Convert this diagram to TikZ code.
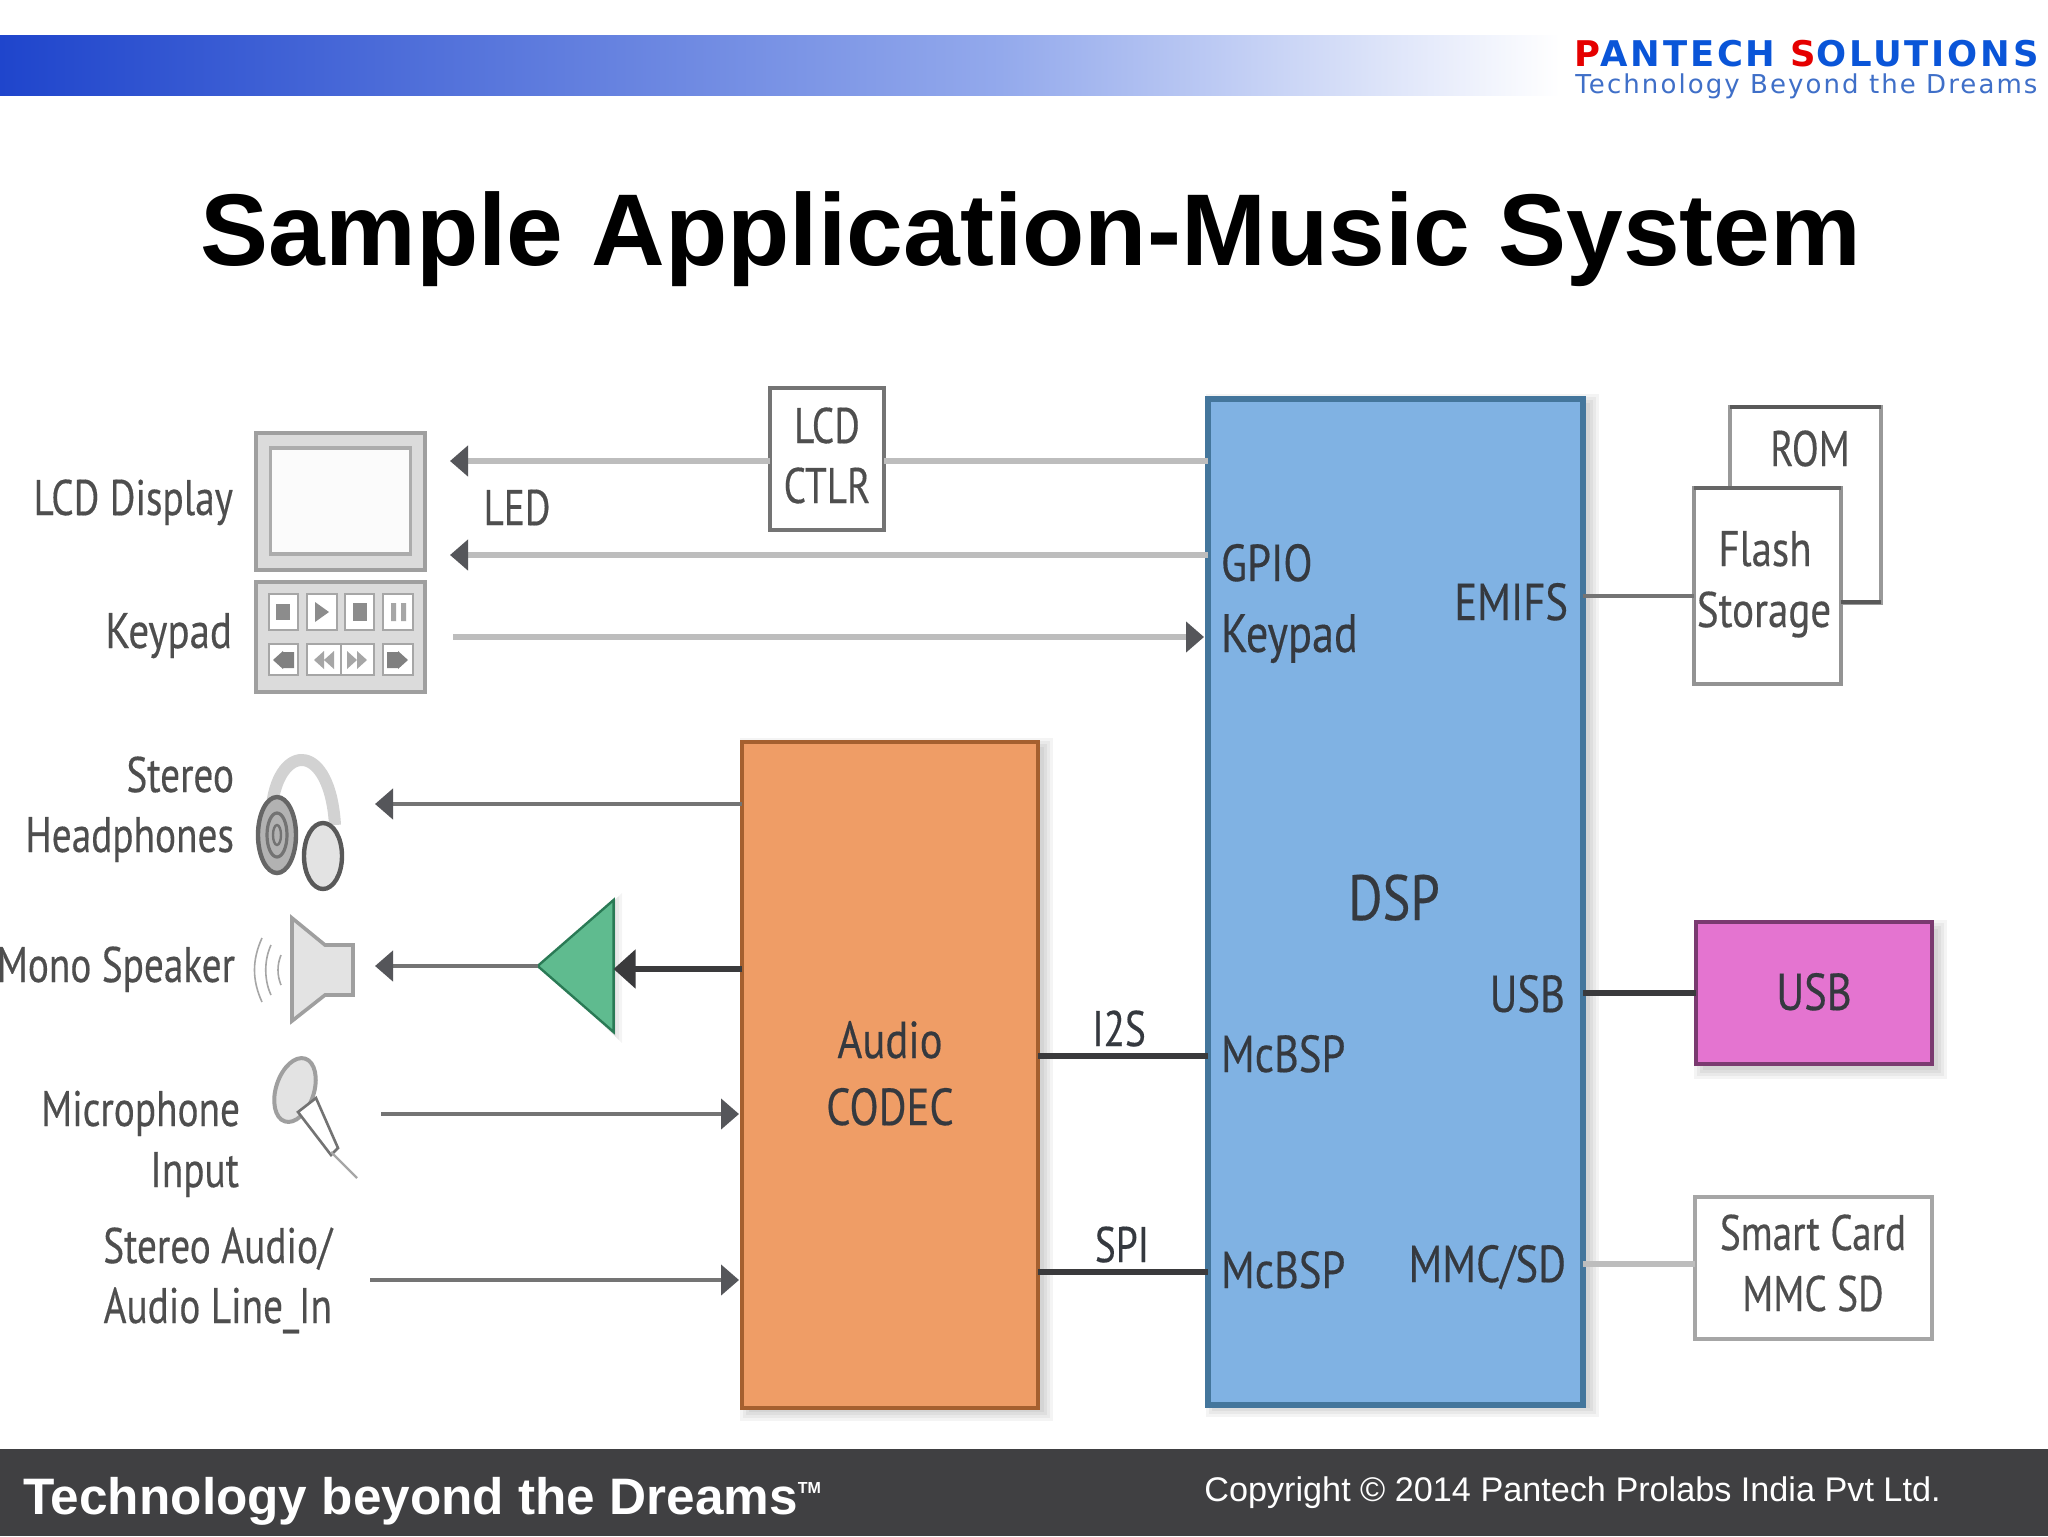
\documentclass[tikz,border=0pt]{standalone}
\usepackage{fontspec}
\setmainfont{Liberation Sans}
\newfontfamily\lab[FakeStretch=0.82,FakeBold=0.3]{PT Sans}
\newfontfamily\labn[FakeStretch=0.785,FakeBold=0.3]{PT Sans}
\newfontfamily\logof[LetterSpace=8]{DejaVu Sans}
\usetikzlibrary{arrows.meta,shapes.geometric}
\definecolor{dspfill}{HTML}{80B2E3}\definecolor{dspline}{HTML}{44769C}
\definecolor{codfill}{HTML}{EF9D66}\definecolor{codline}{HTML}{A5602F}
\definecolor{usbfill}{HTML}{E474D0}\definecolor{usbline}{HTML}{7A3A70}
\definecolor{ampfill}{HTML}{5FBB8F}\definecolor{ampline}{HTML}{2A7A55}
\definecolor{labc}{HTML}{4E4E4E}\definecolor{labd}{HTML}{35393F}\definecolor{foot}{HTML}{404042}
\definecolor{lgrey}{HTML}{BDBDBD}\definecolor{mgrey}{HTML}{747474}\definecolor{dgrey}{HTML}{3A3A3C}
\definecolor{tipc}{HTML}{55565A}\definecolor{logob}{HTML}{0A55D8}\definecolor{logot}{HTML}{3F6FC8}
\definecolor{bandl}{HTML}{1F45CC}\definecolor{bandm}{HTML}{93A9EC}
\newcommand{\softshadow}[4]{%
 \foreach \d in {0,3,6,9}{\fill[black,opacity=0.045] (#1+\d,#2+\d) rectangle (#3+9-\d,#4+9-\d);}}
\tikzset{
 x=0.5pt,y=-0.5pt,
 txt/.style={font=\labn\fontsize{25}{30}\selectfont,text=labc,inner sep=0,outer sep=0},
 txtw/.style={font=\lab\fontsize{25}{30}\selectfont,text=labc,inner sep=0,outer sep=0},
 txtd/.style={font=\lab\fontsize{26}{30}\selectfont,text=labd,inner sep=0,outer sep=0},
 box/.style={draw,inner sep=0,outer sep=0,line width=1.6pt},
 whitebox/.style={box,fill=white,draw=mgrey},
 tipL/.style={-{Triangle[length=9pt,width=15pt,color=tipc]}},
 lgline/.style={draw=lgrey,line width=2.6pt},
 mgline/.style={draw=mgrey,line width=2.2pt},
 dkline/.style={draw=dgrey,line width=3pt},
 icon/.style={draw=gray!75,fill=gray!22,line width=1pt},
}
\begin{document}
\begin{tikzpicture}
\useasboundingbox (0,0) rectangle (2048,1536);
\fill[white] (0,0) rectangle (2048,1536);
% header
\shade[left color=bandl,right color=bandm] (0,36) rectangle (1000,96);
\shade[left color=bandm,right color=white] (1000,36) rectangle (1560,96);
\node[anchor=base west,inner sep=0,font=\logof\bfseries\fontsize{17.7}{20}\selectfont] (logo) at (1574,67) {\textcolor{red!90!black}{P}\textcolor{logob}{ANTECH} \textcolor{red!90!black}{S}\textcolor{logob}{OLUTIONS}};
\node[anchor=base west,inner sep=0,font=\logof\fontsize{13}{15}\selectfont,text=logot] (tag) at (1575,94) {Technology Beyond the Dreams};
% title
\node[anchor=base,inner sep=0,font=\bfseries\fontsize{51}{60}\selectfont] (title) at (1031,265) {Sample Application-Music System};
% footer
\fill[foot] (0,1449) rectangle (2048,1536);
\node[anchor=base west,inner sep=0,text=white,font=\bfseries\fontsize{25.65}{30}\selectfont] (ftl) at (23,1514) {Technology beyond the Dreams\raisebox{10.5pt}{\fontsize{8}{10}\selectfont TM}};
\node[anchor=base west,inner sep=0,text=white,font=\fontsize{17.1}{22}\selectfont] (ftr) at (1204,1501) {Copyright © 2014 Pantech Prolabs India Pvt Ltd.};
% shadows
\softshadow{1206}{394}{1590}{1408}
\softshadow{740}{738}{1044}{1412}
\softshadow{1694}{920}{1938}{1070}
\foreach \d in {0,3,6,9}{\fill[black,opacity=0.045] (622-\d,893+\d) -- (622-\d,1043-\d) -- (542+\d,968) -- cycle;}
% boxes
\node[box,fill=dspfill,draw=dspline,line width=2.6pt,minimum width=187.5pt,minimum height=503pt] (dsp) at (1395.5,902) {};
\node[box,fill=codfill,draw=codline,line width=2.2pt,minimum width=148pt,minimum height=333pt] (codec) at (890,1075) {};
\node[whitebox,minimum width=57pt,minimum height=71pt,line width=1.8pt] (ctlr) at (827,459) {};
\node[box,fill=usbfill,draw=usbline,line width=2.4pt,minimum width=118pt,minimum height=71pt] (usbdev) at (1814,993) {};
\node[whitebox,draw=gray!70,line width=2.4pt,minimum width=118.5pt,minimum height=71pt] (smart) at (1813.5,1268) {};
\node[whitebox,draw=gray!80,line width=2pt,minimum width=75.5pt,minimum height=98pt] (rom) at (1805.5,505) {};
\draw[draw=black!65,line width=2pt] (rom.north west) -- (rom.north east);
\node[whitebox,draw=gray!85,line width=2pt,minimum width=73.5pt,minimum height=98pt] (flash) at (1767.5,586) {};
\draw[draw=black!60,line width=2pt] (flash.north west) -- (flash.north east);
\draw[draw=black!65,line width=2pt] (flash.east |- 0,602) -- (rom.east |- 0,602);
% LCD
\node[box,fill=gray!28,draw=gray!75,minimum width=84.5pt,minimum height=68.5pt] (lcd) at (340.5,501.5) {};
\node[box,fill=white!97!gray,draw=gray!65,line width=1.8pt,minimum width=70pt,minimum height=53pt] (screen) at (340.5,501) {};
% keypad
\node[box,fill=gray!28,draw=gray!75,minimum width=84.5pt,minimum height=55pt] (keypad) at (340.5,637) {};
\foreach \xa/\xb/\ya/\yb in {269/298/594/630,307/337/594/630,345/374/594/630,383/413/594/630,269/298/644/675,307/341/644/675,341/374/644/675,383/413/644/675}
  \draw[draw=gray!70,fill=white,line width=1pt] (\xa,\ya) rectangle (\xb,\yb);
\fill[gray!90] (276,604) rectangle (290,620);
\fill[gray!90] (315,602) -- (315,622) -- (329,612) -- cycle;
\fill[gray!90] (353,603) rectangle (367,621);
\fill[gray!70] (391,603) rectangle (396,621) (401,603) rectangle (406,621);
\fill[gray!100] (273,660) -- (283,651) -- (283,669) -- cycle (283,652) rectangle (294,668);
\fill[gray!70] (314,660) -- (324,651) -- (324,669) -- cycle (324,660) -- (334,651) -- (334,669) -- cycle;
\fill[gray!70] (357,660) -- (347,651) -- (347,669) -- cycle (367,660) -- (357,651) -- (357,669) -- cycle;
\fill[gray!100] (408,660) -- (398,651) -- (398,669) -- cycle (387,652) rectangle (398,668);
% headphones
\draw[gray!35,line width=6pt] (272,805) .. controls (280,742) and (330,742) .. (335,825);
\draw[icon,fill=gray!60,draw=black!60,line width=2.2pt] (277,835) ellipse (19 and 38);
\draw[black!55,line width=1.6pt] (277,835) ellipse (10 and 22);
\draw[black!55,line width=1.2pt] (277,835) ellipse (4 and 10);
\draw[icon,fill=gray!22,draw=black!65,line width=2.2pt] (323,856) ellipse (19 and 33);
% speaker
\draw[icon,line width=1.8pt] (292,918) -- (292,1021) -- (325,995) -- (353,995) -- (353,945) -- (325,945) -- cycle;
\draw[gray!70,line width=0.8pt] (262,938) .. controls (252,960) and (252,980) .. (262,1002);
\draw[gray!70,line width=0.8pt] (271,945) .. controls (264,960) and (264,980) .. (271,995);
\draw[gray!70,line width=0.8pt] (281,955) .. controls (277,965) and (277,975) .. (281,985);
% microphone
\draw[icon,line width=2pt,rotate around={-18:(295,1090)}] (295,1090) ellipse (19 and 33);
\draw[icon,fill=white,draw=black!55,line width=1.3pt] (298,1112) -- (316,1098) -- (338,1148) -- (331,1155) -- cycle;
\draw[gray!70,line width=1.2pt] (331,1152) -- (357,1178);
% amp
\node[isosceles triangle,isosceles triangle apex angle=82,shape border rotate=180,fill=ampfill,draw=ampline,line width=1.2pt,inner sep=0,outer sep=0,minimum height=37pt,minimum width=66pt] (amp) at (583.5,966) {};
% free ends
\coordinate (tLcd) at (450,461);
\coordinate (tLed) at (450,555);
\coordinate (sKey) at (453,637);
\coordinate (tHead) at (375,804);
\coordinate (tSpk) at (375,966);
\coordinate (sMic) at (381,1114);
\coordinate (sLine) at (370,1280);
% connectors
\draw[lgline] (dsp.west |- tLcd) -- (ctlr.east |- tLcd);
\draw[lgline,tipL] (ctlr.west |- tLcd) -- (tLcd);
\draw[lgline,tipL] (dsp.west |- tLed) -- (tLed);
\draw[lgline,tipL,shorten >=2pt] (sKey) -- (dsp.west |- sKey);
\draw[mgline,tipL] (codec.west |- tHead) -- (tHead);
\draw[mgline,tipL] (amp.apex) -- (tSpk);
\draw[dkline,line width=3pt,-{Triangle[length=11pt,width=19pt,color=dgrey]}] (codec.west |- 0,969) -- (amp.east |- 0,969);
\draw[mgline,tipL,shorten >=1.5pt] (sMic) -- (codec.west |- sMic);
\draw[mgline,tipL,shorten >=1.5pt] (sLine) -- (codec.west |- sLine);
\draw[dkline] (codec.east |- 0,1056) -- (dsp.west |- 0,1056);
\draw[dkline] (codec.east |- 0,1272) -- (dsp.west |- 0,1272);
\draw[mgline] (dsp.east |- 0,596) -- (flash.west |- 0,596);
\draw[dkline,line width=3pt] (dsp.east |- usbdev) -- (usbdev.west);
\draw[lgline,line width=2.6pt] (dsp.east |- 0,1264) -- (smart.west |- 0,1264);
% labels
\node[txt,anchor=base east] (tLcdD) at (233,515) {LCD Display};
\node[txtw,anchor=base east] (tKey) at (232,648) {Keypad};
\node[txt,anchor=base east] (tSt) at (234,792) {Stereo};
\node[txt,anchor=base east] (tHp) at (234,852) {Headphones};
\node[txt,anchor=base east] (tMs) at (235,982) {Mono Speaker};
\node[txt,anchor=base east] (tMc) at (240,1126) {Microphone};
\node[txt,anchor=base east] (tIn) at (239,1187) {Input};
\node[txt,anchor=base east] (tSa) at (332,1263) {Stereo Audio/};
\node[txt,anchor=base east] (tAl) at (332,1323) {Audio Line\_In};
\node[txt,anchor=base] (tLedL) at (517,525) {LED};
\node[txt,anchor=base] (tC1) at (827,443) {LCD};
\node[txt,anchor=base] (tC2) at (827,503) {CTLR};
\node[txt,anchor=base] (tRom) at (1810,466) {ROM};
\node[txtw,anchor=base] (tFl) at (1765,566) {Flash};
\node[txtw,anchor=base] (tSg) at (1764,627) {Storage};
\node[txtd,anchor=base west] (tGp) at (1221,581) {GPIO};
\node[txtd,anchor=base west,font=\lab\fontsize{27}{30}\selectfont] (tKp) at (1221,652) {Keypad};
\node[txtd,anchor=base east] (tEm) at (1568,620) {EMIFS};
\node[txtd,anchor=base,font=\lab\fontsize{32}{36}\selectfont] (tDsp) at (1394,920) {DSP};
\node[txtd,anchor=base east] (tUs) at (1565,1012) {USB};
\node[txtd,anchor=base west] (tM1) at (1221,1072) {McBSP};
\node[txtd,anchor=base west] (tM2) at (1221,1288) {McBSP};
\node[txtd,anchor=base east] (tMm) at (1566,1282) {MMC/SD};
\node[txt,anchor=base,text=labd] (tI2) at (1119,1046) {I2S};
\node[txt,anchor=base,text=labd] (tSp) at (1122,1262) {SPI};
\node[txtd,anchor=base] (tAu) at (890,1058) {Audio};
\node[txtd,anchor=base] (tCo) at (890,1125) {CODEC};
\node[txtd,anchor=base] (tUb) at (1814,1010) {USB};
\node[txt,anchor=base] (tSc) at (1813,1250) {Smart Card};
\node[txt,anchor=base] (tMs2) at (1813,1311) {MMC SD};
\end{tikzpicture}
\end{document}
